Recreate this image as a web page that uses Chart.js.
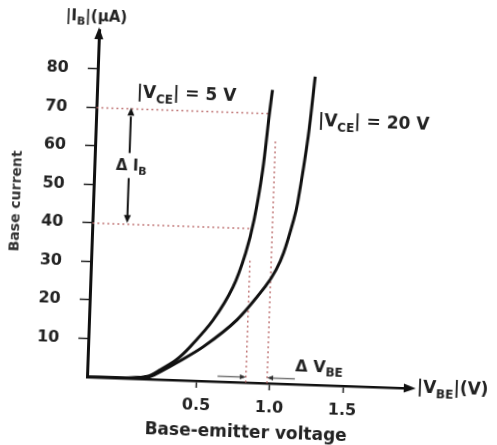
<!DOCTYPE html>
<html>
<head>
<meta charset="utf-8">
<script src="https://cdn.jsdelivr.net/npm/chart.js@4.4.0/dist/chart.umd.min.js"></script>
<style>
  html, body { margin: 0; padding: 0; background: #fff; overflow: hidden; }
  /* the printed figure sits a little crooked on the scan */
  #wrap { width: 497px; height: 445px; transform: rotate(2deg); transform-origin: 87px 377px; }
</style>
</head>
<body>
<div id="wrap"><canvas id="myChart" width="497" height="445"></canvas></div>
<script>
// |VCE| = 5 V
const vbe_5 = [-0.253, 0.05, 0.16, 0.245, 0.352, 0.444, 0.596, 0.725, 0.803, 0.853, 0.900, 0.933, 0.948];
const ib_5 = [0, 0.2, 0.7, 2.5, 5.2, 8.7, 15.9, 24.7, 33.6, 42.3, 55.3, 70.2, 76.2];

// |VCE| = 20 V
const vbe_20 = [-0.253, 0.07, 0.18, 0.265, 0.353, 0.534, 0.760, 0.944, 1.015, 1.063, 1.124, 1.147, 1.203, 1.237];
const ib_20 = [0, 0.2, 0.7, 2.4, 4.4, 8.85, 16.2, 25.0, 29.5, 34.0, 42.7, 47.1, 64.3, 80];

const yTicks = [10, 20, 30, 40, 50, 60, 70, 80];
const xTicks = [0.5, 1.0, 1.5];

// dotted guide lines
const guideI = [70, 40];
const guideIEnd = [0.935, 0.835];
const guideV = [0.834, 0.98];
const guideVTop = [32.4, 63];

const X_MIN = -0.253;
const X_MAX = 1.945;
const Y_MAX = 90.1;

const FONT = '"DejaVu Sans", sans-serif';
const INK = '#222';

const toPoints = (xs, ys) => xs.map((x, i) => ({ x: x, y: ys[i] }));

const curve = { borderColor: '#111', borderWidth: 3, pointRadius: 0, tension: 0.3, fill: false };
const dotted = { borderColor: 'rgba(185,100,100,0.85)', borderWidth: 1.5, borderDash: [2, 3], pointRadius: 0, tension: 0, fill: false };

const datasets = [
    { ...curve, label: '|VCE| = 5 V', data: toPoints(vbe_5, ib_5) },
    { ...curve, label: '|VCE| = 20 V', data: toPoints(vbe_20, ib_20) }
];
guideI.forEach((v, i) => {
    datasets.push({ ...dotted, data: [{ x: X_MIN, y: v }, { x: guideIEnd[i], y: v }] });
});
guideV.forEach((v, i) => {
    datasets.push({ ...dotted, data: [{ x: v, y: 0 }, { x: v, y: guideVTop[i] }] });
});

function drawSub(ctx, parts, x, y, size, align) {
    const big = 'bold ' + size + 'px ' + FONT;
    const small = 'bold ' + Math.round(size * 0.72) + 'px ' + FONT;
    let w = 0;
    parts.forEach(p => { ctx.font = p[1] ? small : big; w += ctx.measureText(p[0]).width; });
    let cx = align === 'center' ? x - w / 2 : x;
    ctx.textAlign = 'left';
    ctx.textBaseline = 'middle';
    parts.forEach(p => {
        ctx.font = p[1] ? small : big;
        ctx.fillText(p[0], cx, p[1] ? y + size * 0.32 : y);
        cx += ctx.measureText(p[0]).width;
    });
}

function head(ctx, x, y, dir, len, half) {
    ctx.beginPath();
    ctx.moveTo(x, y);
    if (dir === 'up') { ctx.lineTo(x - half, y + len); ctx.lineTo(x + half, y + len); }
    if (dir === 'down') { ctx.lineTo(x - half, y - len); ctx.lineTo(x + half, y - len); }
    if (dir === 'right') { ctx.lineTo(x - len, y - half); ctx.lineTo(x - len, y + half); }
    if (dir === 'left') { ctx.lineTo(x + len, y - half); ctx.lineTo(x + len, y + half); }
    ctx.closePath();
    ctx.fill();
}

function line(ctx, x1, y1, x2, y2) {
    ctx.beginPath();
    ctx.moveTo(x1, y1);
    ctx.lineTo(x2, y2);
    ctx.stroke();
}

const annotations = {
    id: 'annotations',
    afterDraw(chart) {
        const ctx = chart.ctx;
        const a = chart.chartArea;
        const x = chart.scales.x;
        const y = chart.scales.y;
        ctx.save();
        ctx.fillStyle = '#111';
        ctx.strokeStyle = '#111';

        // axis arrows
        head(ctx, a.left, a.top - 3, 'up', 12, 4.5);
        ctx.lineWidth = 2.5;
        line(ctx, a.right - 2, a.bottom, a.right + 2, a.bottom);
        head(ctx, a.right + 8, a.bottom, 'right', 12, 4.5);

        // delta I_B
        const xi = x.getPixelForValue(-0.015);
        ctx.lineWidth = 2;
        line(ctx, xi, y.getPixelForValue(68), xi, y.getPixelForValue(58.5));
        head(ctx, xi, y.getPixelForValue(70.3), 'up', 8, 3.5);
        line(ctx, xi, y.getPixelForValue(52), xi, y.getPixelForValue(42));
        head(ctx, xi, y.getPixelForValue(40.3), 'down', 8, 3.5);

        // delta V_BE
        ctx.strokeStyle = '#777';
        ctx.fillStyle = '#333';
        ctx.lineWidth = 1.5;
        const yv = y.getPixelForValue(1.4);
        line(ctx, x.getPixelForValue(0.64), yv, x.getPixelForValue(0.82), yv);
        head(ctx, x.getPixelForValue(guideV[0]), yv, 'right', 6, 2.5);
        line(ctx, x.getPixelForValue(1.17), yv, x.getPixelForValue(0.995), yv);
        head(ctx, x.getPixelForValue(guideV[1]), yv, 'left', 6, 2.5);

        ctx.fillStyle = INK;
        drawSub(ctx, [['\u0394 I'], ['B', 1]], x.getPixelForValue(0.0), y.getPixelForValue(55), 15, 'center');
        drawSub(ctx, [['\u0394 V'], ['BE', 1]], x.getPixelForValue(1.17), y.getPixelForValue(4.5), 16, 'left');
        drawSub(ctx, [['|V'], ['CE', 1], ['| = 5 V']], x.getPixelForValue(0.02), y.getPixelForValue(74), 17, 'left');
        drawSub(ctx, [['|V'], ['CE', 1], ['| = 20 V']], x.getPixelForValue(1.267), y.getPixelForValue(68.3), 17, 'left');
        drawSub(ctx, [['|I'], ['B', 1], ['|(\u03bcA)']], a.left - 3, a.top - 13, 15, 'center');
        drawSub(ctx, [['|V'], ['BE', 1], ['|(V)']], a.right + 9, a.bottom, 17, 'left');
        ctx.restore();
    }
};

const ctx = document.getElementById('myChart').getContext('2d');

const myChart = new Chart(ctx, {
    type: 'line',
    data: { datasets: datasets },
    options: {
        responsive: false,
        animation: false,
        layout: { padding: { top: 30, right: 89, bottom: 0, left: 0 } },
        plugins: { legend: { display: false }, tooltip: { enabled: false } },
        scales: {
            x: {
                type: 'linear',
                min: X_MIN,
                max: X_MAX,
                afterBuildTicks: (s) => { s.ticks = xTicks.map(v => ({ value: v })); },
                afterFit: (s) => { s.height = 68; },
                grid: { drawOnChartArea: false, drawTicks: true, tickLength: 7, tickColor: INK, tickWidth: 1.5 },
                border: { display: true, color: '#111', width: 2.5 },
                ticks: {
                    padding: 8,
                    color: INK,
                    autoSkip: false,
                    maxRotation: 0,
                    font: { family: FONT, size: 16, weight: 'bold' },
                    callback: (v) => Number(v).toFixed(1)
                },
                title: {
                    display: true,
                    text: 'Base-emitter voltage',
                    color: INK,
                    padding: { top: 0, bottom: 7 },
                    font: { family: FONT, size: 17, weight: 'bold' }
                }
            },
            y: {
                type: 'linear',
                min: 0,
                max: Y_MAX,
                afterBuildTicks: (s) => { s.ticks = yTicks.map(v => ({ value: v })); },
                afterFit: (s) => { s.width = 87; },
                grid: { drawOnChartArea: false, drawTicks: true, tickLength: 10, tickColor: INK, tickWidth: 1.5 },
                border: { display: true, color: '#111', width: 3 },
                ticks: {
                    padding: 19,
                    color: INK,
                    autoSkip: false,
                    font: { family: FONT, size: 16, weight: 'bold' }
                },
                title: {
                    display: true,
                    text: 'Base current',
                    color: '#333',
                    padding: { top: 2, bottom: 0 },
                    font: { family: FONT, size: 14, weight: 'bold' }
                }
            }
        }
    },
    plugins: [annotations]
});
</script>
</body>
</html>
